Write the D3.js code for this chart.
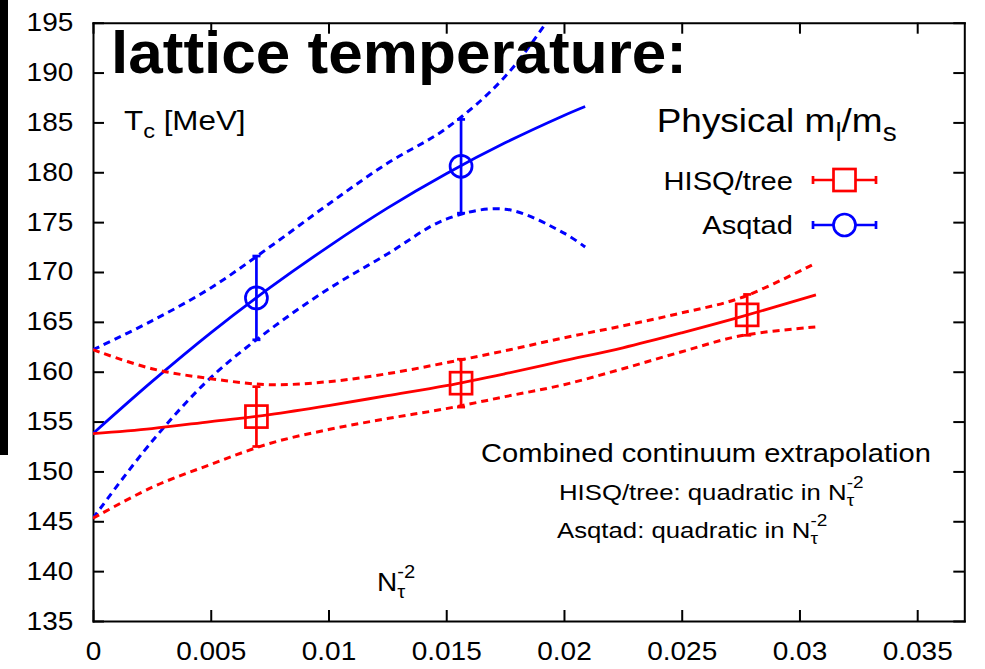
<!DOCTYPE html>
<html>
<head>
<meta charset="utf-8">
<script src="https://cdn.jsdelivr.net/npm/d3@7"></script>
<style>
  body { margin: 0; background: #fff; }
  svg { display: block; }
  text { font-family: "Liberation Sans", Arial, Helvetica, sans-serif; fill: #000; white-space: pre; }
</style>
</head>
<body>
<svg id="chart" width="985" height="669"></svg>
<script>
// ---------------- data ----------------
const xTicks = [0, 0.005, 0.01, 0.015, 0.02, 0.025, 0.03, 0.035];
const xTickLabels = ["0", "0.005", "0.01", "0.015", "0.02", "0.025", "0.03", "0.035"];
const yTicks = [135, 140, 145, 150, 155, 160, 165, 170, 175, 180, 185, 190, 195];

// HISQ/tree data points (N_tau = 12, 8, 6)
const hisqX = [0.00694, 0.01563, 0.02778];
const hisqT = [155.5, 158.85, 165.7];
const hisqErr = [3.0, 2.4, 2.05];

// Asqtad data points (N_tau = 12, 8)
const asqX = [0.00694, 0.01563];
const asqT = [167.4, 180.6];
const asqErr = [4.2, 4.7];

// HISQ/tree continuum fit and error band
const hisqCurveX = [0, 0.0025, 0.005, 0.0075, 0.01, 0.0125, 0.015, 0.0175, 0.02, 0.0225, 0.025, 0.0275, 0.0307];
const hisqFit   = [153.8, 154.3, 155.0, 155.7, 156.6, 157.6, 158.6, 159.8, 161.1, 162.4, 163.9, 165.5, 167.7];
const hisqUpper = [162.2, 160.3, 159.3, 158.7, 159.0, 159.8, 160.9, 162.1, 163.4, 164.6, 165.9, 167.4, 170.9];
const hisqLower = [145.3, 148.4, 150.7, 152.8, 154.2, 155.3, 156.3, 157.5, 158.7, 160.3, 162.0, 163.6, 164.5];

// Asqtad continuum fit and error band
const asqCurveX = [0, 0.0025, 0.005, 0.0075, 0.01, 0.0125, 0.015, 0.0175, 0.02, 0.0209];
const asqFit   = [153.8, 159.0, 163.9, 168.4, 172.55, 176.4, 179.85, 182.95, 185.7, 186.6];
const asqUpper = [162.2, 165.1, 168.4, 172.5, 176.8, 180.9, 184.4, 189.6, 197.6, 200.8];
const asqLower = [145.3, 153.0, 159.4, 164.2, 168.3, 171.8, 175.3, 176.3, 173.9, 172.5];

const RED = "#ff0000", BLUE = "#0000ff";
const SX = 1.12; // horizontal text stretch seen in the picture

// ---------------- layout ----------------
const svg = d3.select("#chart");
const L = 93, R = 964.3, T = 22.7, B = 621;
const x = d3.scaleLinear().domain([0, 0.037]).range([L, R]);
const y = d3.scaleLinear().domain([135, 195]).range([B, T]);

// left black bar
svg.append("rect").attr("x", 0).attr("y", 0).attr("width", 8).attr("height", 455).attr("fill", "#000");

// clip
svg.append("defs").append("clipPath").attr("id", "plotclip")
  .append("rect").attr("x", L).attr("y", T).attr("width", R - L).attr("height", B - T);

// axes
function styleAxis(g) {
  g.selectAll("path.domain").attr("stroke", "#000").attr("stroke-width", 2).attr("stroke-linecap", "square");
  g.selectAll(".tick line").attr("stroke", "#000").attr("stroke-width", 2);
}
const gx = svg.append("g").attr("transform", `translate(0,${B})`)
  .call(d3.axisBottom(x).tickValues(xTicks).tickFormat((d, i) => xTickLabels[i])
        .tickSizeInner(-11).tickSizeOuter(0).tickPadding(21));
gx.call(styleAxis);
gx.selectAll("text").attr("font-size", 25).attr("font-family", null).attr("transform", `scale(${SX},1)`);

const gy = svg.append("g").attr("transform", `translate(${L},0)`)
  .call(d3.axisLeft(y).tickValues(yTicks).tickFormat(d3.format("d"))
        .tickSizeInner(-11).tickSizeOuter(0).tickPadding(17.6));
gy.call(styleAxis);
gy.selectAll("text").attr("font-size", 25).attr("font-family", null).attr("transform", `scale(${SX},1)`);

const gt = svg.append("g").attr("transform", `translate(0,${T})`)
  .call(d3.axisTop(x).tickValues(xTicks).tickFormat("").tickSizeInner(-11).tickSizeOuter(0));
gt.call(styleAxis);
const gr = svg.append("g").attr("transform", `translate(${R},0)`)
  .call(d3.axisRight(y).tickValues(yTicks).tickFormat("").tickSizeInner(-11).tickSizeOuter(0));
gr.call(styleAxis);

// rich text helper (sub/superscripts)
function rich(parent, px, py, segs, anchor = "start", sx = SX) {
  const g = parent.append("g");
  let cx = 0;
  segs.forEach(s => {
    const t = g.append("text").attr("x", cx).attr("y", s.dy || 0)
      .attr("font-size", s.fs).attr("font-weight", s.w || "normal").text(s.t);
    if (s.len) t.attr("textLength", s.len).attr("lengthAdjust", "spacingAndGlyphs");
    let w = s.len || t.node().getComputedTextLength();
    if (s.sup) {
      const t2 = g.append("text").attr("x", cx).attr("y", s.sup.dy)
        .attr("font-size", s.sup.fs).text(s.sup.t);
      w = Math.max(w, t2.node().getComputedTextLength());
    }
    cx += w;
  });
  const off = anchor === "end" ? -cx : anchor === "middle" ? -cx / 2 : 0;
  g.attr("transform", `translate(${px},${py}) scale(${sx},1) translate(${off},0)`);
  return g;
}

// curves
const plot = svg.append("g").attr("clip-path", "url(#plotclip)");
const line = d3.line().x(d => x(d[0])).y(d => y(d[1])).curve(d3.curveCatmullRom.alpha(0.5));
function drawCurve(xs, ys, color, dashed) {
  plot.append("path").datum(xs.map((v, i) => [v, ys[i]]))
    .attr("d", line).attr("fill", "none").attr("stroke", color)
    .attr("stroke-width", dashed ? 3 : 2.8)
    .attr("stroke-dasharray", dashed ? "7,5" : null);
}
drawCurve(asqCurveX, asqUpper, BLUE, true);
drawCurve(asqCurveX, asqLower, BLUE, true);
drawCurve(asqCurveX, asqFit, BLUE, false);
drawCurve(hisqCurveX, hisqUpper, RED, true);
drawCurve(hisqCurveX, hisqLower, RED, true);
drawCurve(hisqCurveX, hisqFit, RED, false);

// data points with error bars
function drawPoints(xs, ts, es, color, shape) {
  const g = svg.append("g").attr("stroke", color).attr("stroke-width", 2.7).attr("fill", "none");
  xs.forEach((xv, i) => {
    const cx = x(xv), cy = y(ts[i]), y0 = y(ts[i] - es[i]), y1 = y(ts[i] + es[i]);
    g.append("line").attr("x1", cx).attr("x2", cx).attr("y1", y0).attr("y2", y1);
    g.append("line").attr("x1", cx - 4).attr("x2", cx + 4).attr("y1", y0).attr("y2", y0);
    g.append("line").attr("x1", cx - 4).attr("x2", cx + 4).attr("y1", y1).attr("y2", y1);
    if (shape === "square") {
      g.append("rect").attr("x", cx - 11).attr("y", cy - 11).attr("width", 22).attr("height", 22);
    } else {
      g.append("circle").attr("cx", cx).attr("cy", cy).attr("r", 11);
    }
  });
}
drawPoints(hisqX, hisqT, hisqErr, RED, "square");
drawPoints(asqX, asqT, asqErr, BLUE, "circle");

// legend
const legendItems = [
  { label: "HISQ/tree", color: RED, shape: "square", ly: 180, tb: 190 },
  { label: "Asqtad", color: BLUE, shape: "circle", ly: 225, tb: 234 }
];
rich(svg, 656.7, 131.7, [
  { t: "Physical m", fs: 33 }, { t: "l", fs: 25, dy: 9 }, { t: "/m", fs: 33 }, { t: "s", fs: 25, dy: 9 }
]);
legendItems.forEach(it => {
  rich(svg, 793, it.tb, [{ t: it.label, fs: 26 }], "end");
  const g = svg.append("g").attr("stroke", it.color).attr("stroke-width", 2.7).attr("fill", "none");
  g.append("line").attr("x1", 813).attr("x2", 876).attr("y1", it.ly).attr("y2", it.ly);
  g.append("line").attr("x1", 813).attr("x2", 813).attr("y1", it.ly - 4).attr("y2", it.ly + 4);
  g.append("line").attr("x1", 876).attr("x2", 876).attr("y1", it.ly - 4).attr("y2", it.ly + 4);
  if (it.shape === "square") {
    g.append("rect").attr("x", 844.5 - 11).attr("y", it.ly - 11).attr("width", 22).attr("height", 22).attr("fill", "#fff");
  } else {
    g.append("circle").attr("cx", 844.5).attr("cy", it.ly).attr("r", 11).attr("fill", "#fff");
  }
});

// y label
rich(svg, 124, 130, [{ t: "T", fs: 28 }, { t: "c", fs: 21, dy: 8 }, { t: " [MeV]", fs: 28 }]);

// x label
rich(svg, 377, 591, [{ t: "N", fs: 25 }, { t: "τ", fs: 18, dy: 7, sup: { t: "-2", fs: 18, dy: -13 } }]);

// annotations
rich(svg, 481, 461.7, [{ t: "Combined continuum extrapolation", fs: 26 }]);
rich(svg, 559, 500, [{ t: "HISQ/tree: quadratic in N", fs: 23 }, { t: "τ", fs: 17, dy: 6, sup: { t: "-2", fs: 17, dy: -12 } }]);
rich(svg, 557, 538.3, [{ t: "Asqtad: quadratic in N", fs: 23 }, { t: "τ", fs: 17, dy: 6, sup: { t: "-2", fs: 17, dy: -12 } }]);

// title overlay
rich(svg, 111, 72.7, [{ t: "lattice temperature:", fs: 60, w: "bold", len: 576 }], "start", 1);
</script>
</body>
</html>
